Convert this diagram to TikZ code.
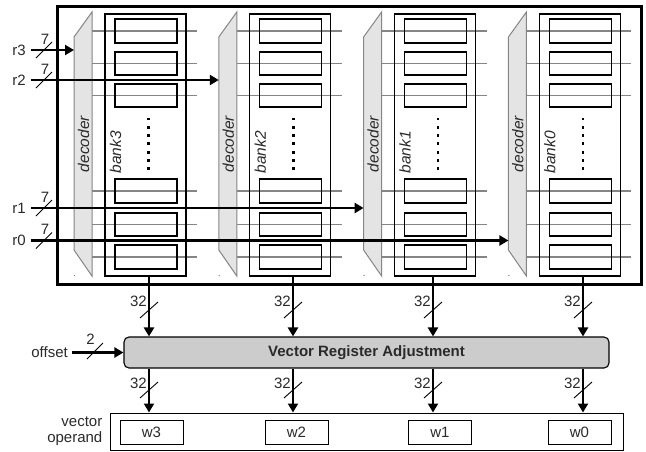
\documentclass[tikz,border=0pt]{standalone}
\usepackage{fontspec}
\setmainfont{Liberation Sans}
\usetikzlibrary{arrows.meta,calc}
\definecolor{decfill}{HTML}{E4E4E4}
\definecolor{wordline}{HTML}{858585}
\definecolor{adjfill}{HTML}{CCCCCC}
\definecolor{labelcol}{HTML}{2A2A2A}
\begin{document}
\begin{tikzpicture}[x=1pt,y=-1pt,
  txt/.style={font=\fontsize{15}{16}\selectfont, text=labelcol, inner sep=0pt},
  itxt/.style={font=\fontsize{15.5}{16}\selectfont\itshape, text=labelcol, inner sep=0pt},
  bus/.style={line width=2.3pt, -{Triangle[length=9pt,width=10pt]}},
  slashmark/.style={line width=0.9pt},
  regbox/.style={line width=1.3pt},
  wl/.style={wordline, line width=1.3pt},
  decshape/.style={fill=decfill, draw=wordline, line width=1pt},
  wordbox/.style={draw, line width=0.9pt, minimum width=63pt, minimum height=24pt, inner sep=0pt, font=\fontsize{15}{16}\selectfont, text=labelcol}
]
\useasboundingbox (0,0) rectangle (646,451);

% register file frame
\node[draw, line width=3pt, minimum width=584pt, minimum height=278pt, inner sep=0pt] (regfile) at (349,145) {};

% four banks, each with its row decoder
\foreach \k/\n in {0/3,1/2,2/1,3/0} {
  \pgfmathsetmacro\dx{144.8*\k}
  % decoder
  \filldraw[decshape] (74+\dx,37) -- (92+\dx,12) -- (92+\dx,276) -- (74+\dx,250) -- cycle;
  \fill[wordline] (74.5+\dx,275.5) circle (0.7);
  % word lines
  \foreach \y in {31,63.5,95.5,191,224.5,257}
    \draw[wl] (92+\dx,\y) -- (197+\dx,\y);
  % bank outline
  \node[draw, line width=1.3pt, minimum width=81pt, minimum height=262pt, inner sep=0pt] (bank\n) at (145.5+\dx,145) {};
  % registers
  \foreach \ya/\yb in {19/43,52/75,84/107,179/203,213/236,245/269}
    \draw[regbox] (115+\dx,\ya) rectangle (177+\dx,\yb);
  % ellipsis
  \foreach \j in {0,...,6}
    \fill (147.4+\dx,117.5+8.3*\j) rectangle ++(2.4,2.8);
  % labels
  \node[itxt, rotate=90] (dlab\n) at (83.5+\dx,144) {decoder};
  \node[itxt, rotate=90, anchor=west] (blab\n) at (115.5+\dx,173.5) {bank\n};
  % decoder input point
  \coordinate (din\n) at (74+\dx,0);
}

% row address inputs
\foreach \n/\y in {3/50,2/80,1/208,0/240.5} {
  \coordinate (src\n) at (31,\y);
  \coordinate (dst\n) at (din\n |- src\n);
  \node[txt, anchor=east] (rlab\n) at (26,\y) {r\n};
  \node[txt] (rw\n) at (45,\y-11) {7};
  \draw[slashmark] ($(src\n)+(5,8)$) -- ++(16,-16);
  \draw[bus] (src\n) -- (dst\n);
}

% adjustment unit
\node[draw, line width=1.1pt, fill=adjfill, rounded corners=5pt, minimum width=485pt, minimum height=31pt, inner sep=0pt,
  font=\fontsize{15}{16}\selectfont\bfseries, text=labelcol] (vra) at (366.5,352.5) {Vector Register Adjustment};

% offset input
\node[txt, anchor=east] (offlab) at (68,352.5) {offset};
\coordinate (offsrc) at (72,352.5);
\node[txt] (offw) at (90.5,339.5) {2};
\draw[slashmark] (87,359) -- (103,343);
\draw[bus] (offsrc) -- (vra.west);

% vector operand
\node[draw, line width=1pt, minimum width=513pt, minimum height=37pt, inner sep=0pt] (vop) at (366.5,431.5) {};
\node[txt, anchor=east, align=right] (voplab) at (102.5,431.5) {vector\\operand};
\foreach \n/\x in {3/151.5,2/296.5,1/440,0/579.5}
  \node[wordbox] (w\n) at (\x,432) {w\n};

% data paths: bank -> adjustment -> operand
\foreach \n/\x in {3/149,2/293,1/433,0/583} {
  \coordinate (bo\n) at (\x,276);
  \draw[bus] (bo\n) -- (bo\n |- vra.north);
  \node[txt, anchor=east] (ua\n) at (\x-2,301) {32};
  \draw[slashmark] (\x-9,318) -- (\x+9,302);
  \coordinate (ao\n) at (vra.south -| bo\n);
  \draw[bus] (ao\n) -- (ao\n |- vop.north);
  \node[txt, anchor=east] (la\n) at (\x-2,383.5) {32};
  \draw[slashmark] (\x-9,398) -- (\x+9,382);
}
\end{tikzpicture}
\end{document}
